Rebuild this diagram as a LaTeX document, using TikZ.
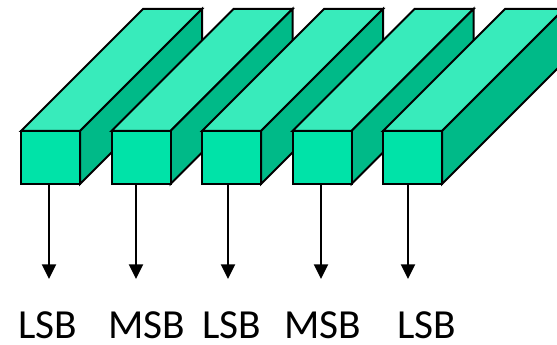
\documentclass[tikz,border=0pt]{standalone}
\usepackage{fontspec}
\setmainfont{Carlito}
\usetikzlibrary{arrows.meta}
\definecolor{barfront}{HTML}{00E3A8}
\definecolor{bartop}{HTML}{38EBBB}
\definecolor{barside}{HTML}{00BA88}
\begin{document}
\begin{tikzpicture}[x=0.75pt,y=-0.75pt,
  face/.style={draw=black,line width=1.5pt,line join=miter},
  frontface/.style={face,fill=barfront,minimum width=44.25pt,minimum height=39.75pt,
    inner sep=0pt,outer sep=0pt,anchor=north west},
  readout/.style={line width=1.5pt,-{Triangle[width=10.5pt,length=11pt]}},
  bitlabel/.style={font=\fontsize{31}{31}\selectfont,inner sep=0pt}]
\useasboundingbox (0,0) rectangle (557,345);
% five bars, drawn left to right so each one overlaps the side of the previous
\foreach \i/\x/\ax/\lx/\txt in {1/21/49/47.5/LSB,2/111.5/136/146.5/MSB,3/202/228/232/LSB,
                                4/292.5/321/322.5/MSB,5/383/408/427/LSB}{
  \path[face,fill=bartop] (\x,131) -- ++(122,-122) -- ++(59,0) -- ++(-122,122) -- cycle;
  \path[face,fill=barside] (\x+59,131) -- ++(122,-122) -- ++(0,53) -- ++(-122,122) -- cycle;
  \node[frontface] (f\i) at (\x,131) {};
  \coordinate (e\i) at (\ax,279);
  \draw[readout] (f\i.south -| e\i) -- (e\i);
  \node[bitlabel] (l\i) at (\lx,325) {\txt};
}
\end{tikzpicture}
\end{document}
